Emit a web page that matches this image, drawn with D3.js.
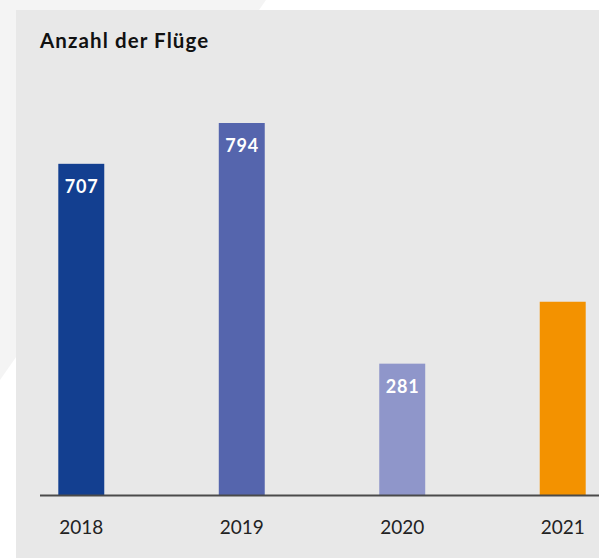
<!DOCTYPE html>
<html>
<head>
<meta charset="utf-8">
<script src="https://cdn.jsdelivr.net/npm/d3@7"></script>
<style>
  html, body { margin: 0; padding: 0; background: #ffffff; }
  svg { display: block; }
</style>
</head>
<body>
<svg id="chart"></svg>
<script>
const years = ["2018", "2019", "2020", "2021"];
const flights = [707, 794, 281, 413];
const showLabel = [true, true, true, false];
const barColors = ["#133f90", "#5565ad", "#8f96ca", "#f39200"];
const title = "Anzahl der Flüge";

const width = 599, height = 558;
const baseY = 495.5;

const svg = d3.select("#chart")
    .attr("width", width)
    .attr("height", height);

// light diagonal shape behind the panel
svg.append("path")
    .attr("d", "M0,0 L266,0 L0,380 Z")
    .attr("fill", "#f4f4f4");

// grey panel
svg.append("rect")
    .attr("x", 16).attr("y", 10)
    .attr("width", width - 16).attr("height", height - 10)
    .attr("fill", "#e8e8e8");

svg.append("text")
    .attr("x", 40).attr("y", 48)
    .attr("font-family", "Lato, 'Noto Sans', sans-serif")
    .attr("font-weight", 700)
    .attr("font-size", 20.5)
    .attr("letter-spacing", 1.1)
    .attr("fill", "#111")
    .text(title);

const x = d3.scaleBand()
    .domain(years)
    .range([58.3, 585.7])
    .paddingInner(0.7136)
    .paddingOuter(0);

const y = d3.scaleLinear()
    .domain([0, 794])
    .range([baseY, 123]);

const data = years.map((yr, i) => ({ year: yr, value: flights[i], color: barColors[i], label: showLabel[i] }));

svg.selectAll("rect.bar")
    .data(data)
    .join("rect")
    .attr("class", "bar")
    .attr("x", d => x(d.year))
    .attr("y", d => y(d.value))
    .attr("width", x.bandwidth())
    .attr("height", d => y(0) - y(d.value))
    .attr("fill", d => d.color);

svg.selectAll("text.val")
    .data(data.filter(d => d.label))
    .join("text")
    .attr("class", "val")
    .attr("x", d => x(d.year) + x.bandwidth() / 2 + 0.4)
    .attr("y", d => y(d.value) + 29)
    .attr("text-anchor", "middle")
    .attr("font-family", "Lato, 'Noto Sans', sans-serif")
    .attr("font-weight", 700)
    .attr("font-size", 18)
    .attr("letter-spacing", 0.8)
    .attr("fill", "#ffffff")
    .text(d => d.value);

// x axis
const axis = svg.append("g")
    .attr("transform", `translate(0,${baseY})`)
    .call(d3.axisBottom(x).tickSize(0).tickPadding(0));

axis.select(".domain").remove();
axis.append("line")
    .attr("x1", 40).attr("x2", width)
    .attr("stroke", "#4a4a4a")
    .attr("stroke-width", 2);

axis.selectAll(".tick text")
    .attr("y", 38)
    .attr("dy", null)
    .attr("font-family", "Lato, 'Noto Sans', sans-serif")
    .attr("font-size", 19)
    .attr("fill", "#222");
</script>
</body>
</html>
